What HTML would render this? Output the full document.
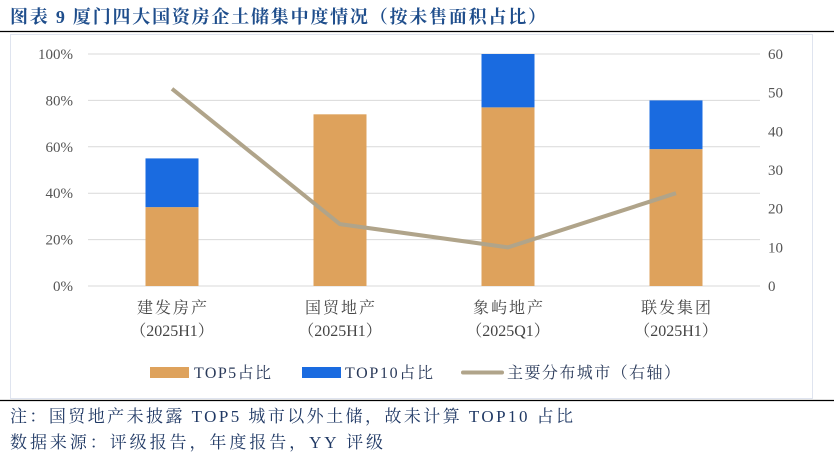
<!DOCTYPE html>
<html><head><meta charset="utf-8"><style>
body{margin:0;background:#fff;width:834px;height:457px;overflow:hidden;font-family:"Liberation Serif","Noto Serif CJK SC",serif;}
svg{display:block}
text{font-family:"Liberation Serif","Noto Serif CJK SC",serif;}
</style></head><body>
<svg width="834" height="457">
<text x="10" y="23" font-size="18" font-weight="bold" fill="#1f4e8c" textLength="536" lengthAdjust="spacing">图表 9 厦门四大国资房企土储集中度情况（按未售面积占比）</text>
<line x1="0" y1="31.5" x2="834" y2="31.5" stroke="#000" stroke-width="1.2"/>
<rect x="10.5" y="34.5" width="802" height="364" fill="#fff" stroke="#dfe4ef"/>
<g id="grid"></g><g id="bars"></g><g id="line"></g><g id="axes"></g>
<g>
<rect x="150" y="367" width="39" height="11" fill="#dea25c"/>
<text x="194" y="378" font-size="16" fill="#2a3a5a" textLength="77" lengthAdjust="spacing">TOP5占比</text>
<rect x="302" y="367" width="39" height="11" fill="#1a6be0"/>
<text x="345" y="378" font-size="16" fill="#2a3a5a" textLength="88" lengthAdjust="spacing">TOP10占比</text>
<line x1="463" y1="372.5" x2="502" y2="372.5" stroke="#b0a48a" stroke-width="4" stroke-linecap="round"/>
<text x="507" y="378" font-size="16" fill="#2a3a5a" textLength="173" lengthAdjust="spacing">主要分布城市（右轴）</text>
</g>
<line x1="0" y1="400.5" x2="834" y2="400.5" stroke="#000" stroke-width="1.2"/>
<text x="10" y="422" font-size="17" fill="#1f3864" textLength="563" lengthAdjust="spacing">注：国贸地产未披露 TOP5 城市以外土储，故未计算 TOP10 占比</text>
<text x="10" y="448" font-size="17" fill="#1f3864" textLength="373" lengthAdjust="spacing">数据来源：评级报告，年度报告，YY 评级</text>
</svg>
<script>
const categories=["建发房产","国贸地产","象屿地产","联发集团"];
const periods=["（2025H1）","（2025H1）","（2025Q1）","（2025H1）"];
const top5=[34,74,77,59];
const top10=[55,null,100,80];
const cities=[51,16,10,24];
const leftTicks=[0,20,40,60,80,100];
const rightTicks=[0,10,20,30,40,50,60];
const NS="http://www.w3.org/2000/svg";
const x0=88,x1=760,yb=286,yt=54,bw=53;
const yL=v=>yb-(v/100)*(yb-yt);
const yR=v=>yb-(v/60)*(yb-yt);
const xC=i=>x0+(x1-x0)*(i+0.5)/categories.length;
function mk(t,a,p){const e=document.createElementNS(NS,t);for(const k in a)e.setAttribute(k,a[k]);p.appendChild(e);return e;}
const G=document.getElementById('grid'),B=document.getElementById('bars'),L=document.getElementById('line'),A=document.getElementById('axes');
leftTicks.forEach(v=>{const g=mk('line',{x1:x0,x2:x1,y1:yL(v),y2:yL(v),stroke:'#d9d9d9'},G);

const t=mk('text',{x:73,y:yL(v)+5,'text-anchor':'end','font-size':15,fill:'#555'},A);t.textContent=v+'%';
});
rightTicks.forEach(v=>{const t=mk('text',{x:768,y:yR(v)+5,'font-size':15,fill:'#555'},A);t.textContent=v;
});
categories.forEach((c,i)=>{const x=xC(i);
const r=mk('rect',{x:x-bw/2,y:yL(top5[i]),width:bw,height:yb-yL(top5[i]),fill:'#dea25c'},B);

if(top10[i]!=null){const r2=mk('rect',{x:x-bw/2,y:yL(top10[i]),width:bw,height:yL(top5[i])-yL(top10[i]),fill:'#1a6be0'},B);
}
const t=mk('text',{x:x-35,y:313,'font-size':16,fill:'#444',textLength:70,lengthAdjust:'spacing'},A);t.textContent=c;

const t2=mk('text',{x:x,y:336,'text-anchor':'middle','font-size':16,fill:'#444'},A);t2.textContent=periods[i];
});
const p=mk('polyline',{points:cities.map((v,i)=>xC(i)+','+yR(v)).join(' '),fill:'none',stroke:'#b0a48a','stroke-width':4,'stroke-linejoin':'round'},L);

</script>
</body></html>
